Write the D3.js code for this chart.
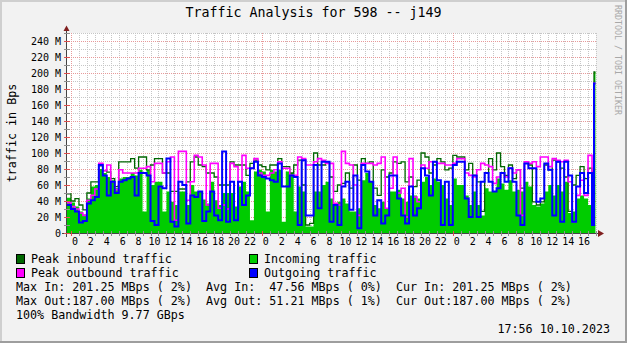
<!DOCTYPE html>
<html>
<head>
<meta charset="utf-8">
<script src="https://cdn.jsdelivr.net/npm/d3@7"></script>
<style>
  body { margin: 0; background: #f2f2f2; }
  svg { display: block; font-family: "DejaVu Sans Mono", monospace; }
  text { white-space: pre; }
</style>
</head>
<body>
<script>
// traffic in MBps, one sample every 30 min from 23:30 on 7 Oct,
// the last value is the 17:45 sample (the spike at the right edge)
const peakIn = [
  49, 40, 43, 35, 29, 50, 64, 64, 84, 78,
  76, 68, 58, 89, 89, 89, 93, 81, 95, 95,
  79, 85, 93, 93, 75, 75, 52, 52, 55, 55,
  64, 89, 95, 85, 83, 75, 75, 70, 60, 60,
  60, 89, 85, 85, 85, 72, 87, 91, 85, 83,
  79, 85, 85, 93, 83, 83, 75, 85, 91, 60,
  10, 12, 100, 85, 85, 89, 70, 52, 60, 62,
  75, 56, 85, 66, 93, 87, 89, 56, 47, 79,
  70, 75, 89, 87, 89, 64, 70, 58, 66, 100,
  95, 75, 85, 93, 89, 79, 81, 97, 95, 95,
  79, 87, 72, 64, 27, 75, 93, 79, 100, 83,
  72, 85, 68, 79, 56, 87, 85, 39, 35, 39,
  85, 79, 91, 89, 81, 70, 27, 60, 72, 83,
  68, 81, 77, 201.25
];
const inAvg = [
  44, 38, 33, 27, 23, 43, 58, 60, 80, 75,
  70, 66, 56, 68, 70, 70, 75, 72, 79, 27,
  79, 60, 64, 64, 27, 52, 39, 35, 52, 52,
  35, 60, 52, 52, 42, 37, 64, 41, 35, 50,
  50, 50, 33, 58, 64, 52, 16, 77, 79, 77,
  27, 79, 77, 79, 14, 77, 75, 27, 58, 52,
  8, 8, 52, 52, 60, 64, 43, 35, 39, 43,
  37, 27, 27, 31, 66, 75, 64, 35, 31, 39,
  31, 52, 52, 54, 43, 39, 47, 47, 43, 64,
  70, 60, 68, 64, 60, 43, 35, 68, 60, 60,
  47, 35, 52, 35, 22, 56, 52, 52, 68, 62,
  54, 66, 52, 54, 52, 64, 58, 35, 33, 37,
  52, 60, 47, 60, 52, 64, 25, 27, 43, 47,
  43, 35, 43, 201.25
];
const peakOut = [
  38, 33, 30, 25, 22, 41, 47, 55, 87, 78,
  85, 64, 54, 79, 75, 75, 75, 75, 81, 81,
  83, 64, 87, 87, 75, 89, 95, 16, 102, 102,
  41, 64, 97, 95, 85, 35, 87, 87, 31, 35,
  30, 87, 83, 64, 97, 81, 81, 93, 75, 72,
  72, 75, 79, 89, 81, 81, 72, 72, 95, 93,
  85, 85, 89, 93, 91, 87, 87, 37, 35, 102,
  87, 85, 60, 22, 87, 87, 87, 85, 87, 95,
  31, 56, 95, 50, 56, 20, 93, 45, 39, 85,
  81, 89, 89, 87, 87, 85, 85, 87, 93, 93,
  75, 72, 70, 79, 87, 85, 83, 62, 70, 75,
  70, 81, 75, 79, 22, 89, 87, 89, 83, 95,
  95, 83, 93, 91, 89, 91, 64, 14, 47, 66,
  47, 97, 31, 187
];
const outAvg = [
  35, 30, 27, 13, 15, 37, 41, 45, 85, 72,
  47, 64, 50, 64, 66, 68, 70, 47, 75, 75,
  72, 15, 10, 58, 56, 93, 14, 8, 64, 60,
  12, 47, 45, 52, 15, 27, 52, 22, 16, 102,
  14, 64, 16, 64, 35, 47, 81, 89, 72, 70,
  68, 66, 64, 87, 58, 58, 72, 70, 10, 91,
  22, 22, 85, 31, 89, 89, 14, 35, 10, 58,
  64, 29, 72, 6, 85, 77, 64, 22, 41, 12,
  22, 72, 72, 43, 22, 12, 58, 22, 31, 81,
  72, 47, 89, 66, 10, 64, 10, 85, 89, 89,
  43, 20, 72, 20, 64, 75, 64, 52, 56, 75,
  64, 81, 64, 22, 10, 87, 81, 81, 39, 43,
  87, 79, 22, 89, 14, 89, 72, 14, 58, 75,
  50, 75, 10, 187
];

const legendNames = ["Peak inbound traffic", "Incoming traffic", "Peak outbound traffic", "Outgoing traffic"];
const legendColors = ["#006600", "#00cc00", "#ff00ff", "#0000ff"];
const statLines = [
  "Max In: 201.25 MBps ( 2%)  Avg In:  47.56 MBps ( 0%)  Cur In: 201.25 MBps ( 2%)",
  "Max Out:187.00 MBps ( 2%)  Avg Out: 51.21 MBps ( 1%)  Cur Out:187.00 MBps ( 2%)",
  "100% Bandwidth 9.77 GBps"
];
const yTicks = [0, 20, 40, 60, 80, 100, 120, 140, 160, 180, 200, 220, 240];
const yMinor = [10, 30, 50, 70, 90, 110, 130, 150, 170, 190, 210, 230, 250];

const title = "Traffic Analysis for 598 -- j149";
const stamp = "17:56 10.10.2023";

const W = 627, H = 343;
const start = new Date(2023, 9, 7, 23, 30);
const lastSample = new Date(2023, 9, 10, 17, 45);
const dataEnd = new Date(2023, 9, 10, 17, 56);
const axisEnd = new Date(2023, 9, 10, 18, 0);

const rows = peakIn.map((v, i) => ({
  t: i < peakIn.length - 1 ? d3.timeMinute.offset(start, 30 * i) : lastSample,
  pi: v, ia: inAvg[i], po: peakOut[i], oa: outAvg[i]
}));
rows.push(Object.assign({}, rows[rows.length - 1], {t: dataEnd}));

const x = d3.scaleTime().domain([start, axisEnd]).range([67, 596]);
const y = d3.scaleLinear().domain([0, 250]).range([233, 33]);

const svg = d3.select("body").append("svg")
    .attr("width", W)
    .attr("height", H);

// background + 3d frame
svg.append("rect").attr("width", W).attr("height", H).attr("fill", "#f2f2f2");
svg.append("path").attr("d", `M0,0H${W}V2H2V${H}H0Z`).attr("fill", "#cfcfcf");
svg.append("path").attr("d", `M${W},0V${H}H0V${H - 2}H${W - 2}V0Z`).attr("fill", "#9e9e9e");

svg.append("rect")
    .attr("x", x.range()[0]).attr("y", y(250))
    .attr("width", x.range()[1] - x.range()[0]).attr("height", y(0) - y(250))
    .attr("fill", "#fff");

// grid
const grid = svg.append("g").attr("shape-rendering", "crispEdges").attr("stroke-dasharray", "1,1");
const hours = x.ticks(d3.timeHour.every(1));
const days = d3.timeDay.range(start, axisEnd);
const isMidnight = d => d.getHours() === 0;

grid.selectAll(".vmin")
  .data(hours.filter(d => !isMidnight(d)))
  .join("line")
    .attr("x1", d => Math.round(x(d)) + 0.5).attr("x2", d => Math.round(x(d)) + 0.5)
    .attr("y1", y(250)).attr("y2", y(0))
    .attr("stroke", "#c6c6c6");

grid.selectAll(".hmin")
  .data(yMinor)
  .join("line")
    .attr("x1", x.range()[0]).attr("x2", x.range()[1] + 1)
    .attr("y1", d => Math.round(y(d)) + 0.5).attr("y2", d => Math.round(y(d)) + 0.5)
    .attr("stroke", "#c6c6c6");

grid.selectAll(".hmaj")
  .data(yTicks.slice(1))
  .join("line")
    .attr("x1", x.range()[0]).attr("x2", x.range()[1] + 1)
    .attr("y1", d => Math.round(y(d)) + 0.5).attr("y2", d => Math.round(y(d)) + 0.5)
    .attr("stroke", "#e79a9a");

grid.selectAll(".vmaj")
  .data(days.filter(d => d >= start))
  .join("line")
    .attr("x1", d => Math.round(x(d)) + 0.5).attr("x2", d => Math.round(x(d)) + 0.5)
    .attr("y1", y(250)).attr("y2", y(0))
    .attr("stroke", "#e79a9a");

// series
svg.append("path")
    .datum(rows)
    .attr("fill", "#00cc00")
    .attr("d", d3.area().curve(d3.curveStepAfter)
      .x(d => x(d.t)).y0(y(0)).y1(d => y(d.ia)));

const line = key => d3.line().curve(d3.curveStepAfter).x(d => x(d.t)).y(d => y(d[key]));

svg.append("path").datum(rows)
    .attr("fill", "none").attr("stroke", "#006600").attr("stroke-width", 1.3)
    .attr("d", line("pi"));
svg.append("path").datum(rows)
    .attr("fill", "none").attr("stroke", "#ff00ff").attr("stroke-width", 1.6)
    .attr("d", line("po"));
svg.append("path").datum(rows)
    .attr("fill", "none").attr("stroke", "#0000ff").attr("stroke-width", 2)
    .attr("d", line("oa"));

// axes
const ax = svg.append("g").attr("shape-rendering", "crispEdges");
ax.append("line").attr("x1", 62).attr("x2", 599).attr("y1", 233.5).attr("y2", 233.5).attr("stroke", "#444");
ax.append("line").attr("x1", 66.5).attr("x2", 66.5).attr("y1", 237).attr("y2", 30).attr("stroke", "#444");

ax.selectAll(".xt")
  .data(hours)
  .join("line")
    .attr("x1", d => Math.round(x(d)) + 0.5).attr("x2", d => Math.round(x(d)) + 0.5)
    .attr("y1", 231).attr("y2", 236)
    .attr("stroke", d => isMidnight(d) ? "#de5050" : "#8f8f8f");

ax.selectAll(".yt")
  .data(yTicks.concat(yMinor))
  .join("line")
    .attr("x1", 64).attr("x2", 70)
    .attr("y1", d => Math.round(y(d)) + 0.5).attr("y2", d => Math.round(y(d)) + 0.5)
    .attr("stroke", d => yTicks.includes(d) ? "#de5050" : "#8f8f8f");

svg.append("path").attr("d", "M63.5,31L66.5,25.5L69.5,31Z").attr("fill", "#801f1f");
svg.append("path").attr("d", "M598,230L604,233.5L598,237Z").attr("fill", "#801f1f");

// tick labels
svg.append("g")
    .attr("font-size", 10)
    .attr("text-anchor", "end")
  .selectAll("text")
  .data(yTicks)
  .join("text")
    .attr("x", 61)
    .attr("y", d => y(d) + 3.5)
    .text(d => d === 0 ? "0" : d + " M");

svg.append("g")
    .attr("font-size", 10)
    .attr("text-anchor", "middle")
  .selectAll("text")
  .data(x.ticks(d3.timeHour.every(2)).filter(d => d3.timeMinute.offset(d, 30) < axisEnd))
  .join("text")
    .attr("x", d => x(d3.timeMinute.offset(d, 30)))
    .attr("y", 245)
    .text(d => d.getHours());

// titles
svg.append("text")
    .attr("x", 313.5).attr("y", 17)
    .attr("font-size", 13.3)
    .attr("text-anchor", "middle")
    .text(title);

svg.append("text")
    .attr("transform", "translate(16,133) rotate(-90)")
    .attr("font-size", 11.7)
    .attr("text-anchor", "middle")
    .text("traffic in Bps");

svg.append("text")
    .attr("transform", "translate(615,5) rotate(90)")
    .attr("font-size", 8.3)
    .attr("fill", "#a8a8a8")
    .text("RRDTOOL / TOBI OETIKER");

// legend
const leg = svg.append("g").attr("font-size", 11.7);
const items = leg.selectAll("g")
  .data(legendNames)
  .join("g")
    .attr("transform", (d, i) => `translate(${i % 2 ? 249 : 16},${i < 2 ? 254 : 268})`);
items.append("rect")
    .attr("x", 0.5).attr("y", 0.5).attr("width", 8).attr("height", 9)
    .attr("fill", (d, i) => legendColors[i])
    .attr("stroke", "#000");
items.append("text")
    .attr("x", 15).attr("y", 9)
    .text(d => d);

leg.selectAll(".stat")
  .data(statLines)
  .join("text")
    .attr("x", 16)
    .attr("y", (d, i) => 291 + i * 14)
    .text(d => d);

leg.append("text")
    .attr("x", 610).attr("y", 333)
    .attr("text-anchor", "end")
    .text(stamp);
</script>
</body>
</html>
